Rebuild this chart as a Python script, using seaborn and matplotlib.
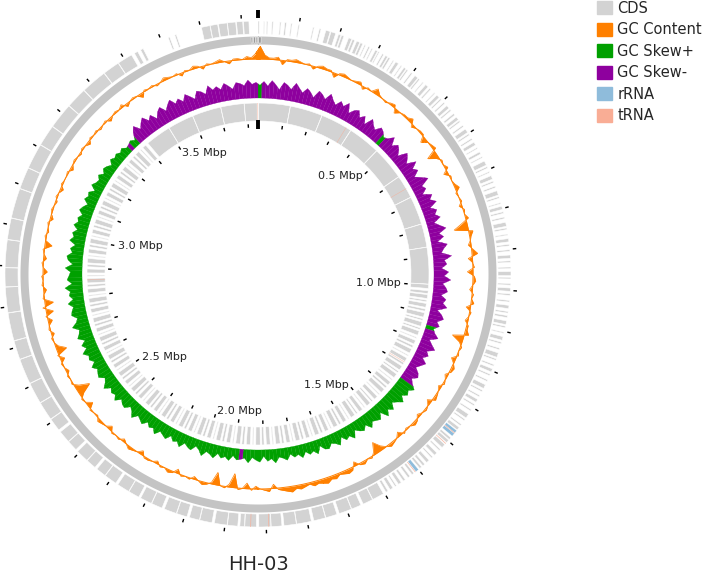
import numpy as np
import matplotlib
matplotlib.use("Agg")
import matplotlib.pyplot as plt
from matplotlib.patches import Patch
import seaborn as sns

# genome size (kb) and title
genome_kb = 3840
title = "HH-03"

# forward-strand CDS (start, end) in kb
fwd_cds = [
    (0, 3), (14, 16), (21, 24), (34, 37), (53, 56), (65, 69), (80, 83), (98, 101),
    (134, 137), (150, 154), (166, 177), (179, 191), (198, 204), (206, 212),
    (224, 232), (234, 240), (245, 253), (255, 261), (266, 269),
    (276, 280), (285, 288), (295, 301), (303, 306), (314, 318), (323, 329),
    (331, 336), (344, 347), (352, 360), (367, 370), (376, 382), (384, 388),
    (397, 401), (409, 418), (420, 424), (433, 436), (443, 451), (456, 460),
    (471, 474), (480, 488), (492, 496), (504, 508), (515, 523), (527, 531),
    (540, 545), (551, 559), (562, 566), (576, 580), (587, 597), (601, 605),
    (614, 618), (625, 633), (640, 643), (652, 658), (665, 668), (677, 688),
    (692, 696), (705, 708), (716, 725), (730, 734), (743, 747), (755, 766),
    (770, 774), (785, 788), (794, 802), (808, 812), (821, 825), (834, 844),
    (848, 852), (863, 866), (874, 882), (888, 892), (901, 905), (914, 922),
    (928, 932), (943, 947), (954, 964), (968, 972), (983, 987), (994, 1002),
    (1008, 1012), (1024, 1028), (1036, 1044), (1051, 1055), (1061, 1066),
    (1074, 1083), (1087, 1091), (1102, 1105), (1113, 1122), (1127, 1131),
    (1142, 1146), (1154, 1165), (1169, 1173), (1184, 1188), (1195, 1203),
    (1209, 1213), (1224, 1228), (1237, 1247), (1252, 1256), (1266, 1270),
    (1277, 1285), (1291, 1295), (1306, 1310), (1319, 1330), (1334, 1338),
    (1349, 1353), (1358, 1366), (1390, 1396), (1398, 1406), (1412, 1422),
    (1428, 1432), (1440, 1448), (1454, 1458), (1466, 1474), (1480, 1486),
    (1490, 1496), (1514, 1520), (1526, 1532), (1540, 1546), (1552, 1560),
    (1566, 1570), (1576, 1584), (1590, 1596),
    (1603, 1632), (1633, 1658), (1664, 1688), (1689, 1720), (1726, 1754),
    (1755, 1784), (1790, 1826), (1827, 1857), (1862, 1888), (1889, 1918),
    (1924, 1952), (1953, 1964), (1969, 1994), (1995, 2026), (2032, 2062),
    (2063, 2088), (2094, 2120), (2121, 2152), (2158, 2185), (2186, 2215),
    (2220, 2247), (2248, 2279), (2285, 2316), (2317, 2342), (2348, 2373),
    (2374, 2405), (2411, 2437), (2438, 2468), (2474, 2506),
    (2507, 2553), (2554, 2606), (2607, 2669), (2670, 2716), (2717, 2785),
    (2786, 2848), (2849, 2895), (2896, 2963), (2964, 3016), (3017, 3090),
    (3091, 3144), (3145, 3207), (3208, 3260), (3261, 3324), (3325, 3376),
    (3377, 3440), (3441, 3482), (3483, 3520),
    (3528, 3537), (3545, 3552), (3618, 3622), (3635, 3639), (3702, 3723),
    (3724, 3742), (3744, 3765), (3766, 3786), (3788, 3803), (3805, 3818),
]

# reverse-strand CDS (start, end) in kb
rev_cds = [
    (2, 116), (117, 234), (235, 350), (351, 468), (469, 590), (591, 675),
    (676, 778), (779, 863), (864, 996), (997, 1012),
    (1020, 1030), (1034, 1048), (1054, 1060), (1066, 1080), (1086, 1094),
    (1100, 1116), (1122, 1128), (1134, 1150), (1156, 1162), (1168, 1184),
    (1192, 1196), (1204, 1218), (1224, 1232), (1238, 1254), (1262, 1266),
    (1274, 1288), (1294, 1302), (1308, 1324), (1330, 1336), (1342, 1358),
    (1366, 1370), (1378, 1392), (1398, 1406), (1412, 1428), (1436, 1440),
    (1448, 1462), (1470, 1476), (1482, 1498), (1506, 1510), (1518, 1532),
    (1540, 1546), (1552, 1568), (1576, 1580), (1588, 1602), (1610, 1618),
    (1624, 1640), (1648, 1652), (1660, 1674), (1682, 1690), (1696, 1712),
    (1720, 1724), (1732, 1746), (1754, 1762), (1768, 1784), (1792, 1796),
    (1804, 1818), (1826, 1834), (1840, 1856), (1864, 1868), (1876, 1890),
    (1898, 1906), (1912, 1928), (1936, 1940), (1948, 1962), (1970, 1978),
    (1984, 2000), (2008, 2012), (2020, 2034), (2042, 2050), (2056, 2072),
    (2080, 2084), (2092, 2106), (2114, 2122), (2128, 2144), (2152, 2156),
    (2164, 2178), (2186, 2194), (2200, 2216), (2224, 2228), (2236, 2250),
    (2258, 2266), (2272, 2288), (2296, 2300), (2308, 2322), (2330, 2338),
    (2344, 2360), (2368, 2372), (2380, 2394), (2402, 2410), (2416, 2432),
    (2440, 2444), (2452, 2466), (2474, 2482), (2488, 2504), (2512, 2516),
    (2524, 2538), (2546, 2554), (2560, 2576), (2584, 2588), (2596, 2610),
    (2618, 2626), (2632, 2648), (2656, 2660), (2668, 2682), (2690, 2698),
    (2704, 2720), (2728, 2732), (2740, 2754), (2762, 2770), (2776, 2792),
    (2800, 2804), (2812, 2826), (2834, 2842), (2848, 2864), (2872, 2876),
    (2884, 2898), (2906, 2914), (2920, 2936), (2944, 2948), (2956, 2970),
    (2978, 2986), (2992, 3008), (3016, 3020), (3028, 3042), (3050, 3058),
    (3064, 3080), (3088, 3092), (3100, 3114), (3122, 3130), (3136, 3152),
    (3160, 3164), (3172, 3186), (3194, 3202), (3208, 3224), (3232, 3236),
    (3244, 3258), (3266, 3274), (3280, 3296), (3304, 3308), (3316, 3330),
    (3338, 3346), (3352, 3368), (3376, 3380), (3388, 3402),
    (3412, 3505), (3506, 3600), (3601, 3705), (3706, 3790), (3791, 3837),
]

rrna_fwd = [(1368, 1375), (1377, 1385), (1500, 1508)]
trna_fwd = [(1375, 1376.5), (1408, 1409.5), (1509, 1510.5), (1893, 1894.5), (1937, 1938.5)]
trna_rev = [(3838, 3839.5), (330, 331.5), (640, 641.5), (1290, 1291.5), (2858, 2859.5)]

# small darker marks on the backbone around the origin
ori_marks = [(3822, 3826), (3829, 3833), (3835, 3839), (2, 8)]

# GC content deviation from the mean (%), 300 windows
gc_dev = [
    9, 3, 1, 1, 2, -3, 1, 1, 2, 1, 0, 1, -2, 1, 2, 1, 1, -3, 1, 2,
    1, 0, 1, 2, -2, 1, 0, 4, 1, 0, -1, 1, 2, -3, 0, 1, 1, 3, -2, 0,
    1, 1, -4, 0, 1, 2, -7, -2, 1, 0, 2, -3, 1, 0, 1, 3, -1, 0, 1, -2,
    1, 0, 2, -4, -10, 3, 1, 0, -2, 1, 4, -3, 0, 1, -4, 1, 2, 0, -2, 1,
    0, 2, -3, 1, 0, -2, 1, 1, 3, -8, -2, 1, 0, 1, -3, 0, 2, 1, -2, 0,
    1, -2, 0, 1, 2, -3, 0, 1, 0, -2, 1, 2, 0, -1, 1, -3, 0, 1, 2, 0,
    -3, -8, -2, 1, 0, 2, 1, -3, 2, 3, 2, 1, 3, 2, 4, 3, 2, 3, 1, 2,
    3, 2, 4, 3, 2, 1, -3, 2, 1, 0, -2, 1, -4, 0, 1, -10, -2, 1, 0, -9,
    -1, 1, 2, 0, -2, 1, 0, 1, -3, 1, 2, 0, 1, -2, 0, 1, 1, -3, 0, 1,
    2, 0, -2, 1, 0, 1, -3, 0, 1, 2, -1, 0, 1, -4, 0, 1, -3, -10, -3, 1,
    0, 1, -2, 0, 1, -3, 1, -7, -2, 0, 1, -2, 1, 0, -3, 1, -5, 2, -6, 1,
    0, -2, 1, 0, 1, -3, 0, 1, -2, 0, 1, -5, 0, 1, -1, 0, 1, -2, 0, 1,
    0, -1, 1, 0, -2, 1, 0, 0, 1, -2, 0, 1, 0, -1, 1, 0, -2, 1, 0, 1,
    -1, 0, 1, -2, 0, 1, 0, 2, -2, 0, 1, 0, -3, 1, 0, 1, -1, 0, 2, 1,
    0, 1, -2, 1, 0, 2, 1, -2, 1, 0, 1, 2, 0, -2, 1, 1, 0, 2, 1, 4,
]

# GC skew (x1000), 300 windows
gc_skew_milli = [
    40, -52, -38, -56, -44, -30, -54, -47, -36, -58, -45, -33, -50, -41, -28, -53, -46, -35, -57, -42,
    -31, -49, -38, -55, -27, -44, -51, -33, -46, -24, -52, -39, -30, -48, -42, 30, -36, -53, -29, -45,
    -37, -22, -50, -41, -28, -56, -34, -46, -25, -43, -60, -31, -39, -21, -48, -35, -52, -26, -44, -33,
    -47, -23, -38, -55, -30, -42, -20, -49, -36, -27, -58, -34, -41, -24, -46, -32, -53, -28, -39, -45,
    -26, -43, -35, -50, -22, -38, -47, -29, -40, 25, -33, -48, -24, -37, -52, -30, -41, -27, -45, -34,
    -23, -39, -46, -31, -42, 58, 44, 52, 38, 55, 41, 30, 49, 36, 53, 27, 45, 39, 33, 48,
    29, 42, 35, 24, 46, 31, 38, 22, 44, 33, 27, 40, 36, 21, 43, 30, 37, 25, 41, 28,
    34, 22, 39, 31, 26, 43, 29, 36, 20, 38, 32, 24, 41, 27, -32, 35, 23, 40, 30, 37,
    25, 42, 33, 28, 45, 30, 22, 39, 34, 26, 44, 31, 37, 24, 41, 35, 29, 46, 32, 38,
    27, 43, 36, 30, 48, 33, 25, 41, 38, 29, 47, 34, 40, 31, 50, 36, 28, 44, 39, 33,
    46, 30, 42, 37, 52, 34, 45, 29, 49, 40, 35, 54, 38, 31, 47, 43, 36, 51, 33, 44,
    39, 55, 32, 47, 41, 36, 53, 30, 45, 50, 34, 42, 28, 48, 37, 44, 31, 46, 35, 40,
    29, 43, 36, 25, 41, 33, 38, 22, 40, 31, 27, 37, 24, 35, 30, 20, 34, 26, 31, 23,
    30, 19, -22, 27, 18, -40, -54, -33, -47, -58, -38, -50, -29, -46, -55, -35, -49, -60, -41, -52,
    -37, -56, -44, -31, -53, -47, -35, -59, -42, -50, -38, -55, -45, -33, -52, -48, -40, -57, -43, -49,
]

label_kb = [500, 1000, 1500, 2000, 2500, 3000, 3500]
label_txt = ["0.5 Mbp", "1.0 Mbp", "1.5 Mbp", "2.0 Mbp", "2.5 Mbp", "3.0 Mbp", "3.5 Mbp"]

col_cds = "#d3d3d3"
col_gc = "#ff8000"
col_pos = "#00a000"
col_neg = "#8e009e"
col_rrna = "#8fbcdb"
col_trna = "#f9ad95"

sns.set_style("white")
plt.rcParams["font.family"] = ["DejaVu Sans"]

W, H = 702, 572
cx, cy, R = 258, 274, 268
fig = plt.figure(figsize=(W / 100, H / 100), dpi=100)
ax = fig.add_axes([(cx - R) / W, (H - cy - R) / H, 2 * R / W, 2 * R / H],
                  projection="polar")
ax.set_theta_zero_location("N")
ax.set_theta_direction(-1)
ax.axis("off")


def th(kb):
    return 2 * np.pi * np.asarray(kb, dtype=float) / genome_kb


def draw_feats(feats, r0, r1, color, lw=0.4):
    s = np.array([f[0] for f in feats])
    e = np.array([f[1] for f in feats])
    ax.bar(th(s), r1 - r0, width=th(e - s), bottom=r0, align="edge",
           color=color, edgecolor="white", linewidth=lw)


# backbone ring
ring = np.linspace(0, 2 * np.pi, 721)
ax.fill_between(ring, 230, 238, color="#c4c4c4", linewidth=0)
draw_feats(ori_marks, 231, 237, "#9a9a9a", lw=0.3)

# outer features (forward strand)
draw_feats(fwd_cds, 240, 253, col_cds)
draw_feats(rrna_fwd, 240, 253, col_rrna, lw=0.2)
draw_feats(trna_fwd, 240, 253, col_trna, lw=0)

# inner features (reverse strand)
draw_feats(rev_cds, 153, 171, col_cds)
draw_feats(trna_rev, 153, 171, col_trna, lw=0)

# ticks every 100 kb
for k in range(0, genome_kb, 100):
    t = th(k)
    if k == 0:
        ax.plot([t, t], [256, 264], color="black", lw=2.8, solid_capstyle="butt")
        ax.plot([t, t], [145, 154], color="black", lw=2.8, solid_capstyle="butt")
    else:
        ax.plot([t, t], [256, 259.5], color="black", lw=1.0, solid_capstyle="butt")
        ax.plot([t, t], [146.5, 150], color="black", lw=1.0, solid_capstyle="butt")

# inner tick labels, anchored at the tick (horizontal circos-style labels)
for k, txt in zip(label_kb, label_txt):
    deg = 360 * k / genome_kb
    if 170 <= deg <= 190:
        ha, va = "center", "bottom"
    elif deg < 180:
        ha, va = "right", "center"
    else:
        ha, va = "left", "center"
    ax.text(th(k), 143, txt, ha=ha, va=va, fontsize=8, color="#222222")

# GC content
n = len(gc_dev)
tc = th((np.arange(n) + 0.5) * genome_kb / n)
r_gc = 215 + np.array(gc_dev, dtype=float) * 1.4
tt = np.concatenate([[tc[-1] - 2 * np.pi], tc, [tc[0] + 2 * np.pi]])
rr = np.concatenate([[r_gc[-1]], r_gc, [r_gc[0]]])
ax.fill_between(tt, 215, rr, color=col_gc, linewidth=0)
sns.lineplot(x=tt, y=rr, ax=ax, color=col_gc, linewidth=0.5)
ax.plot(ring, np.full_like(ring, 215), color=col_gc, lw=0.7)

# GC skew (both signs drawn outward from the baseline)
skew = np.array(gc_skew_milli) / 1000
m = len(skew)
base = 176
r_sk = base + np.abs(skew) * 320
half = np.pi / m
tcs = th((np.arange(m) + 0.5) * genome_kb / m)
for i in range(m):
    rl = (r_sk[i - 1] + r_sk[i]) / 2
    rrt = (r_sk[i] + r_sk[(i + 1) % m]) / 2
    a = tcs[i]
    ax.fill([a - half, a - half, a, a + half, a + half],
            [base, rl, r_sk[i], rrt, base],
            color=col_pos if skew[i] > 0 else col_neg, linewidth=0.2)

ax.set_ylim(0, R)

fig.text(cx / W, 1 - 564 / H, title, ha="center", va="center", fontsize=14)

handles = [Patch(color=c) for c in [col_cds, col_gc, col_pos, col_neg, col_rrna, col_trna]]
names = ["CDS", "GC Content", "GC Skew+", "GC Skew-", "rRNA", "tRNA"]
fig.legend(handles, names, loc="upper left", bbox_to_anchor=(597 / W, 0.999),
           frameon=False, fontsize=10.5, handlelength=1.0, handleheight=1.0,
           handletextpad=0.4, labelspacing=0.45, borderpad=0, borderaxespad=0)

fig.savefig("out.png", dpi=100)
